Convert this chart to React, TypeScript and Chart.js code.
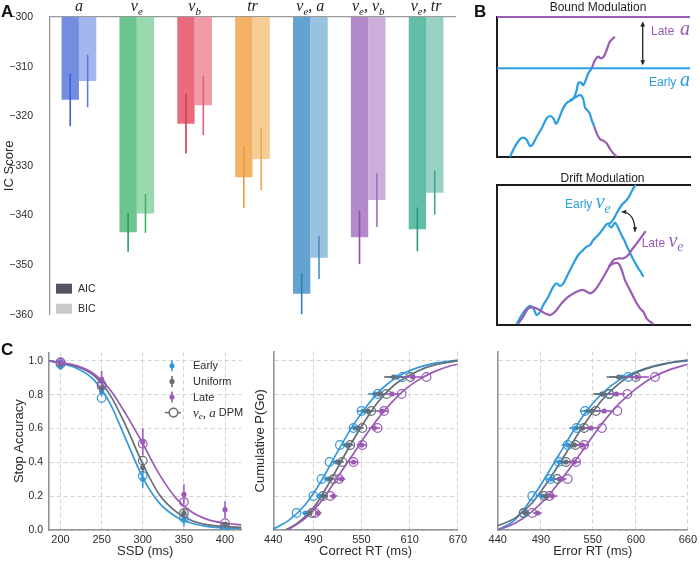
import React, { useEffect, useRef } from "react";
import { Chart, registerables } from "chart.js";

Chart.register(...registerables);

const SANS = "'Liberation Sans', Arial, Helvetica, sans-serif";
const SERIF = "'Liberation Serif', 'Times New Roman', serif";
const TEXT = "#2b2b2b";

// ---------------- Panel A: information criteria ----------------
const modelCategories = ["a", "v_e", "v_b", "tr", "v_e, a", "v_e, v_b", "v_e, tr"];
const aicScores = [-316.7, -343.4, -321.5, -332.3, -355.8, -344.4, -342.8];
const aicErrors = [5.3, 3.9, 6.0, 6.2, 4.1, 5.4, 4.4];
const bicScores = [-312.9, -339.6, -317.8, -328.6, -348.5, -336.9, -335.4];
const bicErrors = [5.3, 3.9, 6.0, 6.3, 4.3, 5.4, 4.4];
const icBase = -300;
const icTicks = [-360, -350, -340, -330, -320, -310, -300];
const icLegend = ["AIC", "BIC"];
const aicColors = ["#728de2", "#6cc48f", "#e86c7e", "#f3b265", "#62a3cf", "#b48bca", "#62bda7"];
const bicColors = ["#a3b6ee", "#9ad8b0", "#f09ba7", "#f7cc95", "#98c2df", "#cbaed9", "#96d1c3"];
const aicErrColors = ["#3a5fd6", "#2a9d5a", "#d03a52", "#ec9a35", "#2f7db8", "#8e4fae", "#2a9a7e"];
const bicErrColors = ["#5a7de0", "#45b070", "#e0607a", "#f0aa50", "#4a90c4", "#a070c0", "#40a88e"];

// ---------------- Panel B: schematic walks (0-100 units) ----------------
const boundLateLevel = 100;
const boundEarlyLevel = 63.4;
const boundArrowX = 75.5;
const boundRiseX = [6.7, 9.3, 11.9, 13.6, 15.4, 17.1, 18.3, 20.6, 23.2, 25.7, 27.5, 29.2, 30.6, 31.8, 33.5, 35.2, 36.9, 38.3, 40.1, 41.3, 42.1, 43.5, 44.7, 46, 47.3, 49.1];
const boundRiseY = [0.2, 7.4, 12.6, 13.8, 12.1, 7.9, 8.6, 14.5, 20.5, 27.6, 29.3, 27.6, 23.6, 26.4, 32.4, 37.1, 39.5, 40.2, 43.1, 47.9, 52.6, 53.1, 51.4, 55, 59.8, 63.3];
const boundRiseLateX = [49.1, 50.8, 52.5, 53.9, 55.3, 56.8, 58.5, 61.1];
const boundRiseLateY = [63.3, 69.3, 71.7, 70.5, 71.7, 76.4, 82.4, 85.9];
const boundFallX = [37.8, 40.4, 42.5, 43.9, 44.9, 45.6, 47, 48, 49.1, 50.4];
const boundFallY = [40.7, 42.4, 44.1, 43.6, 40.2, 35.5, 33.1, 31.2, 26.4, 21.6];
const boundFallLateX = [50.4, 51.7, 53.4, 55.1, 56.8, 58.5, 60.3, 62];
const boundFallLateY = [21.6, 16.9, 12.6, 11.7, 9.8, 5.9, 2.6, 0.2];

const driftEarlyX = [10.2, 12.8, 15.4, 17.1, 18.8, 20.6, 22.3, 24.0, 26.6, 29.2, 30.9, 32.6, 34.4, 37.0, 39.6, 42.1, 44.7, 46.5, 48.2, 49.9, 52.5, 55.1, 56.8, 58.5, 60.6, 62.0, 64.6, 67.2, 68.9, 70.6, 72.0];
const driftEarlyY = [0.7, 7.1, 11.9, 13.6, 11.9, 7.1, 9.5, 14.3, 20.2, 27.4, 29.8, 27.9, 29.8, 36.9, 44.0, 50.0, 53.6, 56.0, 57.1, 60.7, 64.3, 69.0, 72.1, 72.6, 76.2, 79.8, 85.7, 89.3, 92.9, 97.6, 100];
const driftEarlyFallX = [57.7, 59.4, 61.1, 62.5, 63.7, 65.1, 66.3, 67.5, 68.9, 70.3, 71.7, 73.2, 74.4, 75.8];
const driftEarlyFallY = [71.4, 69.8, 73.1, 70.2, 66.7, 62.6, 59.5, 55.5, 51.7, 47.6, 44.0, 40.5, 38.1, 34.5];
const driftLateX = [11.1, 13.6, 16.2, 18.8, 21.4, 24.9, 27.5, 30.1, 33.5, 37.0, 41.3, 44.7, 48.2, 50.8, 54.2, 57.7, 60.3, 62.9, 65.5, 68.0, 69.8, 72.4, 75.0, 77.0];
const driftLateY = [1.2, 6.0, 11.9, 12.6, 11.2, 8.3, 7.1, 9.5, 15.5, 20.2, 23.8, 25.0, 22.6, 25.0, 32.1, 40.5, 46.4, 47.6, 47.6, 50.0, 53.6, 58.3, 63.1, 67.0];
const driftLateFallX = [57.7, 60.3, 62.9, 64.6, 66.3, 68.9, 70.6, 72.4, 74.1, 75.8, 77.5, 79.3, 81.0];
const driftLateFallY = [41.7, 44.0, 44.0, 39.3, 32.1, 25.0, 20.2, 15.5, 11.9, 9.5, 4.8, 2.4, 0.7];
const driftArrowFrom = [64.6, 80.9];
const driftArrowCtrl = [71.5, 80.5];
const driftArrowTo = [71.5, 66.6];

// ---------------- Panel C: behaviour and fits ----------------
const seriesNames = ["Early", "Uniform", "Late"];
const modelName = "v_e, a";
const probTicks = [0, 0.2, 0.4, 0.6, 0.8, 1.0];
const quantiles = [0.1, 0.2, 0.3, 0.4, 0.5, 0.6, 0.7, 0.8, 0.9];

const ssdTicks = [200, 250, 300, 350, 400];
const ssdValues = [200, 250, 300, 350, 400];
const stopEarlyObs = [0.965, 0.82, 0.30, 0.06, 0.01];
const stopEarlyErr = [0.02, 0.03, 0.05, 0.04, 0.01];
const stopUniformObs = [0.98, 0.84, 0.37, 0.10, 0.03];
const stopUniformErr = [0.015, 0.03, 0.03, 0.03, 0.015];
const stopLateObs = [0.99, 0.89, 0.52, 0.21, 0.12];
const stopLateErr = [0.02, 0.05, 0.08, 0.06, 0.05];
const stopEarlyModel = [0.98, 0.78, 0.32, 0.07, 0.01];
const stopUniformModel = [0.99, 0.85, 0.41, 0.10, 0.02];
const stopLateModel = [0.99, 0.86, 0.51, 0.165, 0.04];
const ssdCurveX = [186, 200, 220, 240, 260, 280, 300, 320, 340, 360, 380, 400, 420];
const stopEarlyCurve = [1.0, 0.985, 0.955, 0.89, 0.75, 0.53, 0.31, 0.16, 0.08, 0.04, 0.02, 0.012, 0.01];
const stopUniformCurve = [1.0, 0.988, 0.965, 0.915, 0.80, 0.61, 0.39, 0.21, 0.11, 0.055, 0.03, 0.02, 0.015];
const stopLateCurve = [1.0, 0.99, 0.97, 0.925, 0.83, 0.68, 0.51, 0.33, 0.19, 0.105, 0.06, 0.04, 0.03];

const correctTicks = [440, 490, 550, 610, 670];
const correctEarlyObs = [480, 498, 508, 519, 531, 542, 552, 567, 594];
const correctUniformObs = [485, 503, 511, 522, 534, 546, 558, 572, 590];
const correctLateObs = [496, 515, 525, 540, 550, 566, 576, 588, 614];
const correctObsErr = [4, 5, 5, 6, 6, 7, 8, 9, 12];
const correctEarlyModel = [469, 490, 500, 510, 523, 540, 550, 570, 601];
const correctUniformModel = [488, 502, 515, 526, 536, 551, 562, 581, 611];
const correctLateModel = [492, 511, 522, 540, 551, 570, 578, 600, 631];
const correctEarlyCurveX = [440, 460, 480, 500, 520, 540, 560, 580, 600, 620, 640, 670];
const correctEarlyCurve = [0.005, 0.06, 0.15, 0.29, 0.46, 0.62, 0.75, 0.85, 0.915, 0.955, 0.98, 1.0];
const correctUniformCurveX = [455, 470, 490, 510, 530, 550, 570, 590, 610, 630, 650, 670];
const correctUniformCurve = [0.0, 0.04, 0.13, 0.28, 0.45, 0.61, 0.75, 0.85, 0.91, 0.955, 0.98, 0.995];
const correctLateCurveX = [458, 480, 500, 520, 540, 560, 580, 600, 620, 640, 660, 670];
const correctLateCurve = [0.0, 0.07, 0.17, 0.31, 0.45, 0.59, 0.71, 0.81, 0.88, 0.93, 0.965, 0.975];

const errorTicks = [440, 490, 550, 600, 660];
const errorEarlyObs = [473, 491.6, 501.5, 511.5, 521, 530.7, 544, 562, 584];
const errorUniformObs = [472, 496, 511.5, 519, 528.8, 538.3, 549, 560.6, 580];
const errorLateObs = [486, 503, 513.5, 528.7, 538, 548, 563.2, 577.4, 601];
const errorObsErr = [5, 6, 6, 7, 7, 8, 9, 10, 14];
const errorEarlyModel = [470, 480, 500.8, 510.8, 521, 531.4, 541, 569, 591];
const errorUniformModel = [470, 494, 509, 519, 530, 540, 553.6, 569, 600];
const errorLateModel = [480, 500, 521, 530.7, 540, 560.6, 578.5, 590, 622];
const errorCurveX = [440, 460, 480, 500, 520, 540, 560, 580, 600, 620, 640, 660];
const errorEarlyCurve = [0.0, 0.06, 0.19, 0.35, 0.52, 0.68, 0.80, 0.88, 0.93, 0.965, 0.985, 0.995];
const errorUniformCurve = [0.025, 0.07, 0.16, 0.30, 0.46, 0.62, 0.76, 0.86, 0.925, 0.96, 0.985, 1.0];
const errorLateCurve = [0.0, 0.04, 0.11, 0.21, 0.34, 0.48, 0.62, 0.74, 0.83, 0.90, 0.945, 0.975];

const C_BLUE = "#3498db";
const C_GRAY = "#656d75";
const C_PURPLE = "#9b59b6";
const B_BLUE = "#2a9ee0";
const B_PURPLE = "#9a5cb4";
const SPINE_C = "#8f969c";
const GRID_C = "#d2d2d2";

// ---------------- helpers ----------------
type Seg = { t: string; sub: boolean };
function parseMath(s: string): Seg[] {
  const out: Seg[] = [];
  let buf = "";
  for (let i = 0; i < s.length; i++) {
    if (s[i] === "_") {
      if (buf) out.push({ t: buf, sub: false });
      buf = "";
      out.push({ t: s[i + 1], sub: true });
      i++;
    } else buf += s[i];
  }
  if (buf) out.push({ t: buf, sub: false });
  return out;
}
function drawMath(ctx: CanvasRenderingContext2D, s: string, x: number, y: number, size: number, color: string, align: "left" | "center" = "left") {
  const segs = parseMath(s);
  const fonts = segs.map((g) => `italic ${g.sub ? Math.round(size * 0.7) : size}px ${SERIF}`);
  let total = 0;
  const ws = segs.map((g, i) => {
    ctx.font = fonts[i];
    const w = ctx.measureText(g.t).width;
    total += w;
    return w;
  });
  let cx = align === "center" ? x - total / 2 : x;
  ctx.save();
  ctx.fillStyle = color;
  ctx.textAlign = "left";
  ctx.textBaseline = "alphabetic";
  segs.forEach((g, i) => {
    ctx.font = fonts[i];
    ctx.fillText(g.t, cx, y + (g.sub ? size * 0.22 : 0));
    cx += ws[i];
  });
  ctx.restore();
  return total;
}
function arrowHead(ctx: CanvasRenderingContext2D, x: number, y: number, angle: number, size: number) {
  ctx.beginPath();
  ctx.moveTo(x, y);
  ctx.lineTo(x - size * Math.cos(angle - 0.45), y - size * Math.sin(angle - 0.45));
  ctx.lineTo(x - size * Math.cos(angle + 0.45), y - size * Math.sin(angle + 0.45));
  ctx.closePath();
  ctx.fill();
}
const pts = (xs: number[], ys: number[]) => xs.map((x, i) => ({ x, y: ys[i] }));

// ---------------- Panel A config ----------------
const panelAPlugin = {
  id: "panelA",
  afterDatasetsDraw(chart: any) {
    const { ctx, scales, chartArea } = chart;
    const yS = scales.y;
    const xS = scales.x;
    const groups = [
      { vals: aicScores, errs: aicErrors, cols: aicErrColors },
      { vals: bicScores, errs: bicErrors, cols: bicErrColors },
    ];
    groups.forEach((g, di) => {
      const meta = chart.getDatasetMeta(di);
      meta.data.forEach((bar: any, i: number) => {
        ctx.save();
        ctx.strokeStyle = g.cols[i];
        ctx.lineWidth = 1.6;
        ctx.beginPath();
        ctx.moveTo(bar.x, yS.getPixelForValue(g.vals[i] + g.errs[i]));
        ctx.lineTo(bar.x, yS.getPixelForValue(g.vals[i] - g.errs[i]));
        ctx.stroke();
        ctx.restore();
      });
    });
    modelCategories.forEach((c, i) => drawMath(ctx, c, xS.getPixelForValue(i), 11, 16, "#222", "center"));
    const legendCols = ["#50555f", "#c9c9c9"];
    icLegend.forEach((lab, i) => {
      const cy = chartArea.bottom - 26 + i * 20;
      ctx.save();
      ctx.fillStyle = legendCols[i];
      ctx.fillRect(chartArea.left + 6, cy - 5, 16, 10);
      ctx.fillStyle = TEXT;
      ctx.font = `10.5px ${SANS}`;
      ctx.textBaseline = "middle";
      ctx.textAlign = "left";
      ctx.fillText(lab, chartArea.left + 28, cy + 0.5);
      ctx.restore();
    });
  },
};

const panelAConfig = (): any => ({
  type: "bar",
  data: {
    labels: modelCategories,
    datasets: [
      { label: icLegend[0], data: aicScores, base: icBase, backgroundColor: aicColors, borderWidth: 0, categoryPercentage: 0.6, barPercentage: 1.0 },
      { label: icLegend[1], data: bicScores, base: icBase, backgroundColor: bicColors, borderWidth: 0, categoryPercentage: 0.6, barPercentage: 1.0 },
    ],
  },
  options: {
    animation: false,
    responsive: false,
    events: [],
    layout: { padding: { left: 0, top: 17, right: 35, bottom: 13 }, autoPadding: false },
    plugins: { legend: { display: false }, tooltip: { enabled: false } },
    scales: {
      x: {
        position: "top",
        grid: { display: false },
        ticks: { display: false },
        border: { display: true, color: "#9a9a9a", width: 1.3 },
        afterFit: (s: any) => { s.height = 0; },
      },
      y: {
        min: -360,
        max: -300,
        afterBuildTicks: (s: any) => { s.ticks = icTicks.map((v) => ({ value: v })); },
        afterFit: (s: any) => { s.width = 50; },
        grid: { display: false },
        border: { display: true, color: "#9a9a9a", width: 1.3 },
        ticks: { font: { family: SANS, size: 10.5 }, color: TEXT, padding: 9, callback: (v: any) => String(v).replace("-", "\u2212") },
        title: { display: true, text: "IC Score", font: { family: SANS, size: 13 }, color: TEXT, padding: { top: 1.5, bottom: 0 } },
      },
    },
  },
  plugins: [panelAPlugin],
});

// ---------------- Panel B configs ----------------
function bScales(withTop: boolean) {
  const base = {
    type: "linear",
    min: 0,
    max: 100,
    grid: { display: false },
    ticks: { display: false },
    border: { display: true, color: "#1c1c1c", width: 2 },
  };
  const scales: any = {
    x: { ...base, position: "bottom", afterFit: (s: any) => { s.height = 0; } },
    y: { ...base, position: "left", afterFit: (s: any) => { s.width = 0; } },
  };
  if (withTop) scales.x2 = { ...base, position: "top", afterFit: (s: any) => { s.height = 0; } };
  return scales;
}
const walk = (data: any[], color: string, width = 2.2) => ({
  data,
  borderColor: color,
  borderWidth: width,
  pointRadius: 0,
  tension: 0.35,
  fill: false,
  clip: 6,
});

const boundPlugin = {
  id: "boundDecor",
  afterDraw(chart: any) {
    const { ctx, scales } = chart;
    const x = scales.x;
    const y = scales.y;
    ctx.save();
    ctx.font = `12px ${SANS}`;
    ctx.fillStyle = "#1e1e1e";
    ctx.textAlign = "center";
    ctx.textBaseline = "middle";
    ctx.fillText("Bound Modulation", 108, 7.5);
    const ax = x.getPixelForValue(boundArrowX);
    const y1 = y.getPixelForValue(boundLateLevel) + 4.5;
    const y2 = y.getPixelForValue(boundEarlyLevel) - 3;
    ctx.strokeStyle = "#222";
    ctx.fillStyle = "#222";
    ctx.lineWidth = 1.3;
    ctx.beginPath();
    ctx.moveTo(ax, y1 + 3);
    ctx.lineTo(ax, y2 - 3);
    ctx.stroke();
    arrowHead(ctx, ax, y1, -Math.PI / 2, 5.5);
    arrowHead(ctx, ax, y2, Math.PI / 2, 5.5);
    ctx.textAlign = "left";
    ctx.textBaseline = "alphabetic";
    ctx.font = `12px ${SANS}`;
    ctx.fillStyle = B_PURPLE;
    ctx.fillText("Late", 161, 34.5);
    ctx.fillStyle = B_BLUE;
    ctx.fillText("Early", 159, 86);
    ctx.restore();
    drawMath(ctx, "a", 190, 34.5, 20, B_PURPLE);
    drawMath(ctx, "a", 190, 86, 20, B_BLUE);
  },
};

const boundConfig = (): any => ({
  type: "line",
  data: {
    datasets: [
      walk(pts(boundRiseLateX, boundRiseLateY), B_PURPLE),
      walk(pts(boundFallLateX, boundFallLateY), B_PURPLE),
      walk(pts(boundRiseX, boundRiseY), B_BLUE),
      walk(pts(boundFallX, boundFallY), B_BLUE),
      { ...walk([{ x: 0, y: boundLateLevel }, { x: 100, y: boundLateLevel }], B_PURPLE, 2), tension: 0 },
      { ...walk([{ x: 0, y: boundEarlyLevel }, { x: 100, y: boundEarlyLevel }], B_BLUE, 2), tension: 0 },
    ],
  },
  options: {
    animation: false,
    responsive: false,
    events: [],
    layout: { padding: { left: 7, top: 17, right: 10, bottom: 8 }, autoPadding: false },
    plugins: { legend: { display: false }, tooltip: { enabled: false } },
    scales: bScales(false),
  },
  plugins: [boundPlugin],
});

const driftPlugin = {
  id: "driftDecor",
  afterDraw(chart: any) {
    const { ctx, scales } = chart;
    const x = scales.x;
    const y = scales.y;
    ctx.save();
    ctx.font = `12px ${SANS}`;
    ctx.fillStyle = "#1e1e1e";
    ctx.textAlign = "center";
    ctx.textBaseline = "middle";
    ctx.fillText("Drift Modulation", 112.5, 8.3);
    const p0 = [x.getPixelForValue(driftArrowFrom[0]), y.getPixelForValue(driftArrowFrom[1])];
    const pc = [x.getPixelForValue(driftArrowCtrl[0]), y.getPixelForValue(driftArrowCtrl[1])];
    const p1 = [x.getPixelForValue(driftArrowTo[0]), y.getPixelForValue(driftArrowTo[1])];
    ctx.strokeStyle = "#222";
    ctx.fillStyle = "#222";
    ctx.lineWidth = 1.2;
    ctx.beginPath();
    ctx.moveTo(p0[0], p0[1]);
    ctx.quadraticCurveTo(pc[0], pc[1], p1[0], p1[1]);
    ctx.stroke();
    arrowHead(ctx, p0[0], p0[1], Math.atan2(p0[1] - pc[1], p0[0] - pc[0]), 5);
    arrowHead(ctx, p1[0], p1[1], Math.atan2(p1[1] - pc[1], p1[0] - pc[0]), 5);
    ctx.textAlign = "left";
    ctx.textBaseline = "alphabetic";
    ctx.font = `12px ${SANS}`;
    ctx.fillStyle = B_BLUE;
    ctx.fillText("Early", 75, 38.3);
    const we = ctx.measureText("Early ").width;
    ctx.fillStyle = B_PURPLE;
    ctx.fillText("Late", 151.7, 76.7);
    const wl = ctx.measureText("Late ").width;
    ctx.restore();
    drawMath(ctx, "v_e", 75 + we, 38.3, 20, B_BLUE);
    drawMath(ctx, "v_e", 151.7 + wl, 76.7, 20, B_PURPLE);
  },
};

const driftConfig = (): any => ({
  type: "line",
  data: {
    datasets: [
      walk(pts(driftLateX, driftLateY), B_PURPLE),
      walk(pts(driftLateFallX, driftLateFallY), B_PURPLE),
      walk(pts(driftEarlyX, driftEarlyY), B_BLUE),
      walk(pts(driftEarlyFallX, driftEarlyFallY), B_BLUE),
    ],
  },
  options: {
    animation: false,
    responsive: false,
    events: [],
    layout: { padding: { left: 7, top: 15, right: 10, bottom: 10 }, autoPadding: false },
    plugins: { legend: { display: false }, tooltip: { enabled: false } },
    scales: bScales(true),
  },
  plugins: [driftPlugin],
});

// ---------------- Panel C configs ----------------
const errorBarPlugin = {
  id: "errorBars",
  beforeDatasetDraw(chart: any, args: any) {
    const ds = chart.data.datasets[args.index];
    if (!ds.errY && !ds.errX) return;
    const { ctx } = chart;
    const xs = chart.scales.x;
    const ys = chart.scales.y;
    ctx.save();
    ctx.strokeStyle = ds.pointBackgroundColor;
    ctx.lineWidth = 1.6;
    ds.data.forEach((p: any, i: number) => {
      ctx.beginPath();
      if (ds.errY) {
        const px = xs.getPixelForValue(p.x);
        ctx.moveTo(px, ys.getPixelForValue(p.y - ds.errY[i]));
        ctx.lineTo(px, ys.getPixelForValue(p.y + ds.errY[i]));
      } else {
        const py = ys.getPixelForValue(p.y);
        ctx.moveTo(xs.getPixelForValue(p.x - ds.errX[i]), py);
        ctx.lineTo(xs.getPixelForValue(p.x + ds.errX[i]), py);
      }
      ctx.stroke();
    });
    ctx.restore();
  },
};

const cLegendPlugin = {
  id: "cLegend",
  afterDraw(chart: any) {
    const { ctx, chartArea } = chart;
    const mx = chartArea.left + 123;
    const tx = chartArea.left + 144;
    const cols = [C_BLUE, C_GRAY, C_PURPLE];
    ctx.save();
    seriesNames.forEach((name, i) => {
      const cy = chartArea.top + 13.5 + i * 15.6;
      ctx.strokeStyle = cols[i];
      ctx.fillStyle = cols[i];
      ctx.lineWidth = 1.6;
      ctx.beginPath();
      ctx.moveTo(mx, cy - 5.5);
      ctx.lineTo(mx, cy + 5.5);
      ctx.stroke();
      ctx.beginPath();
      ctx.arc(mx, cy, 2.6, 0, Math.PI * 2);
      ctx.fill();
      ctx.fillStyle = TEXT;
      ctx.font = `11px ${SANS}`;
      ctx.textAlign = "left";
      ctx.textBaseline = "middle";
      ctx.fillText(name, tx, cy + 0.5);
    });
    const cy = chartArea.top + 13.5 + 3 * 15.6;
    ctx.strokeStyle = C_GRAY;
    ctx.lineWidth = 1.5;
    ctx.beginPath();
    ctx.moveTo(mx - 7, cy);
    ctx.lineTo(mx + 9, cy);
    ctx.stroke();
    ctx.fillStyle = "#fff";
    ctx.beginPath();
    ctx.arc(mx + 1.5, cy, 4.3, 0, Math.PI * 2);
    ctx.fill();
    ctx.stroke();
    ctx.restore();
    const w = drawMath(ctx, modelName, tx, cy + 4, 13, TEXT);
    ctx.save();
    ctx.fillStyle = TEXT;
    ctx.font = `11px ${SANS}`;
    ctx.textAlign = "left";
    ctx.textBaseline = "middle";
    ctx.fillText(" DPM", tx + w, cy + 0.5);
    ctx.restore();
  },
};

type CGroup = { color: string; curve: any[]; model: any[]; obs: any[]; errX?: number[]; errY?: number[] };
function cDatasets(groups: CGroup[]) {
  const out: any[] = [];
  groups.forEach((g) => {
    out.push({ type: "line", data: g.curve, borderColor: g.color, borderWidth: 1.7, pointRadius: 0, cubicInterpolationMode: "monotone", fill: false, order: 3 });
    out.push({ type: "scatter", data: g.model, pointRadius: 4.3, pointBorderWidth: 1.2, pointBorderColor: g.color, pointBackgroundColor: "rgba(255,255,255,0)", order: 2 });
    out.push({ type: "scatter", data: g.obs, pointRadius: 2.6, pointBorderWidth: 0, pointBorderColor: g.color, pointBackgroundColor: g.color, errX: g.errX, errY: g.errY, order: 1 });
  });
  return out;
}
function cConfig(o: { xMin: number; xMax: number; xTicks: number[]; xTitle: string; yTitle?: string; showYTicks: boolean; yWidth: number; padRight: number; yTitlePad: number; groups: CGroup[]; legend?: boolean }): any {
  const grid = { color: GRID_C, lineWidth: 1, drawTicks: false };
  const border = { display: true, color: SPINE_C, width: 1.6, dash: [4, 3] };
  return {
    type: "scatter",
    data: { datasets: cDatasets(o.groups) },
    options: {
      animation: false,
      responsive: false,
      events: [],
      layout: { padding: { left: 0, top: 11.5, right: o.padRight, bottom: 0 }, autoPadding: false },
      plugins: { legend: { display: false }, tooltip: { enabled: false } },
      scales: {
        x: {
          type: "linear",
          min: o.xMin,
          max: o.xMax,
          afterBuildTicks: (s: any) => { s.ticks = o.xTicks.map((v) => ({ value: v })); },
          afterFit: (s: any) => { s.height = 32; },
          grid,
          border,
          ticks: { font: { family: SANS, size: 11 }, color: TEXT, padding: 3, callback: (v: any) => String(v) },
          title: { display: true, text: o.xTitle, font: { family: SANS, size: 13 }, color: TEXT, padding: { top: 0, bottom: 3 } },
        },
        y: {
          type: "linear",
          min: 0,
          max: 1.05,
          afterBuildTicks: (s: any) => { s.ticks = probTicks.map((v) => ({ value: v })); },
          afterFit: (s: any) => { s.width = o.yWidth; },
          grid,
          border,
          ticks: { display: o.showYTicks, font: { family: SANS, size: 10.5 }, color: TEXT, padding: 6, callback: (v: any) => Number(v).toFixed(1) },
          title: { display: !!o.yTitle, text: o.yTitle || "", font: { family: SANS, size: 13 }, color: TEXT, padding: { top: o.yTitlePad, bottom: 0 } },
        },
      },
    },
    plugins: o.legend ? [errorBarPlugin, cLegendPlugin] : [errorBarPlugin],
  };
}

const stopConfig = () =>
  cConfig({
    xMin: 186, xMax: 420, xTicks: ssdTicks, xTitle: "SSD (ms)", yTitle: "Stop Accuracy", showYTicks: true, yWidth: 49, padRight: 3.5, yTitlePad: 12, legend: true,
    groups: [
      { color: C_PURPLE, curve: pts(ssdCurveX, stopLateCurve), model: pts(ssdValues, stopLateModel), obs: pts(ssdValues, stopLateObs), errY: stopLateErr },
      { color: C_GRAY, curve: pts(ssdCurveX, stopUniformCurve), model: pts(ssdValues, stopUniformModel), obs: pts(ssdValues, stopUniformObs), errY: stopUniformErr },
      { color: C_BLUE, curve: pts(ssdCurveX, stopEarlyCurve), model: pts(ssdValues, stopEarlyModel), obs: pts(ssdValues, stopEarlyObs), errY: stopEarlyErr },
    ],
  });
const correctConfig = () =>
  cConfig({
    xMin: 440, xMax: 670, xTicks: correctTicks, xTitle: "Correct RT (ms)", yTitle: "Cumulative P(Go)", showYTicks: false, yWidth: 28.3, padRight: 5, yTitlePad: 7.2,
    groups: [
      { color: C_PURPLE, curve: pts(correctLateCurveX, correctLateCurve), model: pts(correctLateModel, quantiles), obs: pts(correctLateObs, quantiles), errX: correctObsErr },
      { color: C_GRAY, curve: pts(correctUniformCurveX, correctUniformCurve), model: pts(correctUniformModel, quantiles), obs: pts(correctUniformObs, quantiles), errX: correctObsErr },
      { color: C_BLUE, curve: pts(correctEarlyCurveX, correctEarlyCurve), model: pts(correctEarlyModel, quantiles), obs: pts(correctEarlyObs, quantiles), errX: correctObsErr },
    ],
  });
const errorConfig = () =>
  cConfig({
    xMin: 440, xMax: 660, xTicks: errorTicks, xTitle: "Error RT (ms)", showYTicks: false, yWidth: 22.7, padRight: 10.7, yTitlePad: 0,
    groups: [
      { color: C_PURPLE, curve: pts(errorCurveX, errorLateCurve), model: pts(errorLateModel, quantiles), obs: pts(errorLateObs, quantiles), errX: errorObsErr },
      { color: C_GRAY, curve: pts(errorCurveX, errorUniformCurve), model: pts(errorUniformModel, quantiles), obs: pts(errorUniformObs, quantiles), errX: errorObsErr },
      { color: C_BLUE, curve: pts(errorCurveX, errorEarlyCurve), model: pts(errorEarlyModel, quantiles), obs: pts(errorEarlyObs, quantiles), errX: errorObsErr },
    ],
  });

// ---------------- components ----------------
function ChartBox(props: { left: number; top: number; width: number; height: number; config: () => any }) {
  const ref = useRef<HTMLCanvasElement>(null);
  useEffect(() => {
    const chart = new Chart(ref.current as HTMLCanvasElement, props.config());
    return () => chart.destroy();
  }, []);
  const { left, top, width, height } = props;
  return (
    <div style={{ position: "absolute", left, top, width, height }}>
      <canvas ref={ref} width={width} height={height} style={{ display: "block", width, height }} />
    </div>
  );
}

function PanelLetter(props: { text: string; left: number; top: number }) {
  return (
    <div style={{ position: "absolute", left: props.left, top: props.top, fontFamily: SANS, fontWeight: "bold", fontSize: 17, lineHeight: "17px", color: "#111" }}>
      {props.text}
    </div>
  );
}

export default function App() {
  return (
    <div style={{ position: "absolute", left: 0, top: 0, width: 700, height: 562, background: "#fff", overflow: "hidden" }}>
      <ChartBox left={0} top={0} width={490} height={330} config={panelAConfig} />
      <ChartBox left={490} top={0} width={210} height={165} config={boundConfig} />
      <ChartBox left={490} top={170} width={210} height={165} config={driftConfig} />
      <ChartBox left={0} top={340} width={245} height={222} config={stopConfig} />
      <ChartBox left={245} top={340} width={225} height={222} config={correctConfig} />
      <ChartBox left={475} top={340} width={225} height={222} config={errorConfig} />
      <PanelLetter text="A" left={1} top={2.8} />
      <PanelLetter text="B" left={474} top={2.8} />
      <PanelLetter text="C" left={1} top={340.8} />
    </div>
  );
}
